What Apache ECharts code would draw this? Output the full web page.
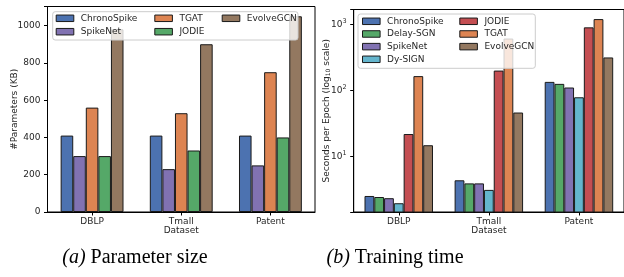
<!DOCTYPE html>
<html>
<head>
<meta charset="utf-8">
<script src="https://cdn.jsdelivr.net/npm/echarts@6/dist/echarts.min.js"></script>
<style>
html,body{margin:0;padding:0;background:#fff;}
#c{width:624px;height:277px;}
</style>
</head>
<body>
<div id="c"></div>
<script>
// ---- data ----
const categories = ['DBLP', 'Tmall', 'Patent'];

// (a) Parameter size (KB)
const paramNames = ['ChronoSpike', 'SpikeNet', 'TGAT', 'JODIE', 'EvolveGCN'];
const paramChronoSpike = [410, 410, 410];
const paramSpikeNet = [300, 230, 250];
const paramTGAT = [560, 530, 750];
const paramJODIE = [300, 330, 400];
const paramEvolveGCN = [980, 900, 1050];
const paramTicks = [0, 200, 400, 600, 800, 1000];

// (b) Training time (seconds per epoch, log scale)
const timeNames = ['ChronoSpike', 'Delay-SGN', 'SpikeNet', 'Dy-SIGN', 'JODIE', 'TGAT', 'EvolveGCN'];
const timeChronoSpike = [2.55, 4.4, 135];
const timeDelaySGN = [2.46, 3.95, 126];
const timeSpikeNet = [2.36, 3.95, 111];
const timeDySIGN = [1.98, 3.15, 79];
const timeJODIE = [22, 200, 900];
const timeTGAT = [165, 610, 1200];
const timeEvolveGCN = [14.9, 46.5, 316];
const timeTicks = [10, 100, 1000];

// ---- styling ----
const C = {
  blue: '#4C72B0', green: '#55A868', purple: '#8172B2', cyan: '#64B5CD',
  red: '#C44E52', orange: '#DD8452', brown: '#937860'
};
const FONT = 'DejaVu Sans';
const TXT = '#262626';
const FS = 9;

const paramData = [paramChronoSpike, paramSpikeNet, paramTGAT, paramJODIE, paramEvolveGCN];
const paramColors = [C.blue, C.purple, C.orange, C.green, C.brown];
const timeData = [timeChronoSpike, timeDelaySGN, timeSpikeNet, timeDySIGN, timeJODIE, timeTGAT, timeEvolveGCN];
const timeColors = [C.blue, C.green, C.purple, C.cyan, C.red, C.orange, C.brown];

const series = [];
paramNames.forEach((n, i) => series.push({
  type: 'bar', name: n, xAxisIndex: 0, yAxisIndex: 0, data: paramData[i],
  barGap: '0%', barCategoryGap: '29.5%',
  itemStyle: {color: paramColors[i], borderColor: '#1a1a1a', borderWidth: 1},
  emphasis: {disabled: true}, animation: false
}));
timeNames.forEach((n, i) => series.push({
  type: 'bar', name: n, xAxisIndex: 1, yAxisIndex: 1, data: timeData[i],
  barGap: '0%', barCategoryGap: '24%', clip: true,
  itemStyle: {color: timeColors[i], borderColor: '#1a1a1a', borderWidth: 1},
  emphasis: {disabled: true}, animation: false
}));

const axisLineStyle = {show: true, lineStyle: {color: '#000', width: 1}};
const tickStyle = {show: true, length: 3.5, lineStyle: {color: '#000', width: 1}};
const labelStyle = {color: TXT, fontFamily: FONT, fontSize: FS};

function xAxis(gi) {
  return {
    type: 'category', gridIndex: gi, data: categories,
    name: 'Dataset', nameLocation: 'middle', nameGap: 14, nameMoveOverlap: false,
    nameTextStyle: {color: TXT, fontFamily: FONT, fontSize: FS},
    axisLine: axisLineStyle,
    axisTick: Object.assign({alignWithLabel: true, inside: false}, tickStyle),
    axisLabel: Object.assign({margin: 5}, labelStyle),
    splitLine: {show: false}
  };
}

function legendCol(left, top, names, lh, gap, overrides) {
  return {
    orient: 'vertical', left: left, top: top, padding: 0,
    itemGap: gap, itemWidth: 17.6, itemHeight: 6.5, icon: 'rect',
    selectedMode: false, z: 30,
    itemStyle: {borderColor: '#1a1a1a', borderWidth: 1},
    textStyle: {color: TXT, fontFamily: FONT, fontSize: FS, lineHeight: lh, padding: [0, 0, 0, 2]},
    data: names.map(n => (overrides && overrides[n]) ? {name: n, itemStyle: {color: overrides[n]}} : {name: n})
  };
}

const option = {
  animation: false,
  backgroundColor: '#fff',
  grid: [
    {left: 47.5, right: 309, top: 6.5, bottom: 65, show: true, borderColor: '#000', borderWidth: 1, backgroundColor: 'transparent'},
    {left: 353.7, right: -2.5, top: 9.5, bottom: 65, show: true, borderColor: '#000', borderWidth: 1, backgroundColor: 'transparent'}
  ],
  xAxis: [xAxis(0), xAxis(1)],
  yAxis: [
    {
      type: 'value', gridIndex: 0, min: 0, max: 1102.5, interval: 200,
      name: '#Parameters (KB)', nameLocation: 'middle', nameGap: 28.5, nameMoveOverlap: false,
      nameTextStyle: {color: TXT, fontFamily: FONT, fontSize: FS},
      axisLine: axisLineStyle, axisTick: tickStyle,
      axisLabel: Object.assign({margin: 7, formatter: v => paramTicks.indexOf(v) >= 0 ? String(v) : ''}, labelStyle),
      splitLine: {show: false}
    },
    {
      type: 'log', logBase: 10, gridIndex: 1, min: 1.46, max: 1675,
      name: 'Seconds per Epoch (log{sub|10} scale)', nameLocation: 'middle', nameGap: 22.5, nameMoveOverlap: false,
      nameTextStyle: {color: TXT, fontFamily: FONT, fontSize: FS,
        rich: {sub: {fontSize: 6, fontFamily: FONT, color: TXT, verticalAlign: 'bottom', padding: [4, 0, 0, 0]}}},
      axisLine: axisLineStyle, axisTick: tickStyle,
      axisLabel: Object.assign({
        margin: 7,
        formatter: v => {
          for (const t of timeTicks) {
            if (Math.abs(v - t) / t < 1e-6) return '{b|10}{s|' + Math.round(Math.log10(t)) + '}';
          }
          return '';
        },
        rich: {
          b: {fontFamily: FONT, fontSize: FS, color: TXT},
          s: {fontFamily: FONT, fontSize: 6.5, color: TXT, verticalAlign: 'top', padding: [0, 0, 6, 0]}
        }
      }, labelStyle),
      splitLine: {show: false}
    }
  ],
  legend: [
    legendCol(55.7, 12.6, ['ChronoSpike', 'SpikeNet'], 11.4, 2, {JODIE: C.green}),
    legendCol(154.3, 12.6, ['TGAT', 'JODIE'], 11.4, 2, {JODIE: C.green}),
    legendCol(221.7, 12.6, ['EvolveGCN'], 11.4, 2, null),
    legendCol(362, 15.8, ['ChronoSpike', 'Delay-SGN', 'SpikeNet', 'Dy-SIGN'], 11, 1.67, null),
    legendCol(459.3, 15.8, ['JODIE', 'TGAT', 'EvolveGCN'], 11, 1.67, {JODIE: C.red})
  ],
  graphic: [
    {type: 'rect', z: 20, shape: {x: 52.7, y: 11.7, width: 245.3, height: 28.3, r: 2.5},
      style: {fill: 'rgba(255,255,255,0.8)', stroke: '#cccccc', lineWidth: 1}},
    {type: 'rect', z: 20, shape: {x: 358, y: 14, width: 177.3, height: 54.3, r: 2.5},
      style: {fill: 'rgba(255,255,255,0.8)', stroke: '#cccccc', lineWidth: 1}},
    {type: 'text', z: 20, x: 135, y: 258,
      style: {text: '{i|(a)} Parameter size', align: 'center', verticalAlign: 'middle',
        fontFamily: 'Liberation Serif', fontSize: 20, fill: '#000',
        rich: {i: {fontFamily: 'Liberation Serif', fontStyle: 'italic', fontSize: 20, fill: '#000'}}}},
    {type: 'text', z: 20, x: 395, y: 258,
      style: {text: '{i|(b)} Training time', align: 'center', verticalAlign: 'middle',
        fontFamily: 'Liberation Serif', fontSize: 20, fill: '#000',
        rich: {i: {fontFamily: 'Liberation Serif', fontStyle: 'italic', fontSize: 20, fill: '#000'}}}}
  ],
  series: series
};

const chart = echarts.init(document.getElementById('c'), null, {renderer: 'canvas'});
chart.setOption(option);
</script>
</body>
</html>
